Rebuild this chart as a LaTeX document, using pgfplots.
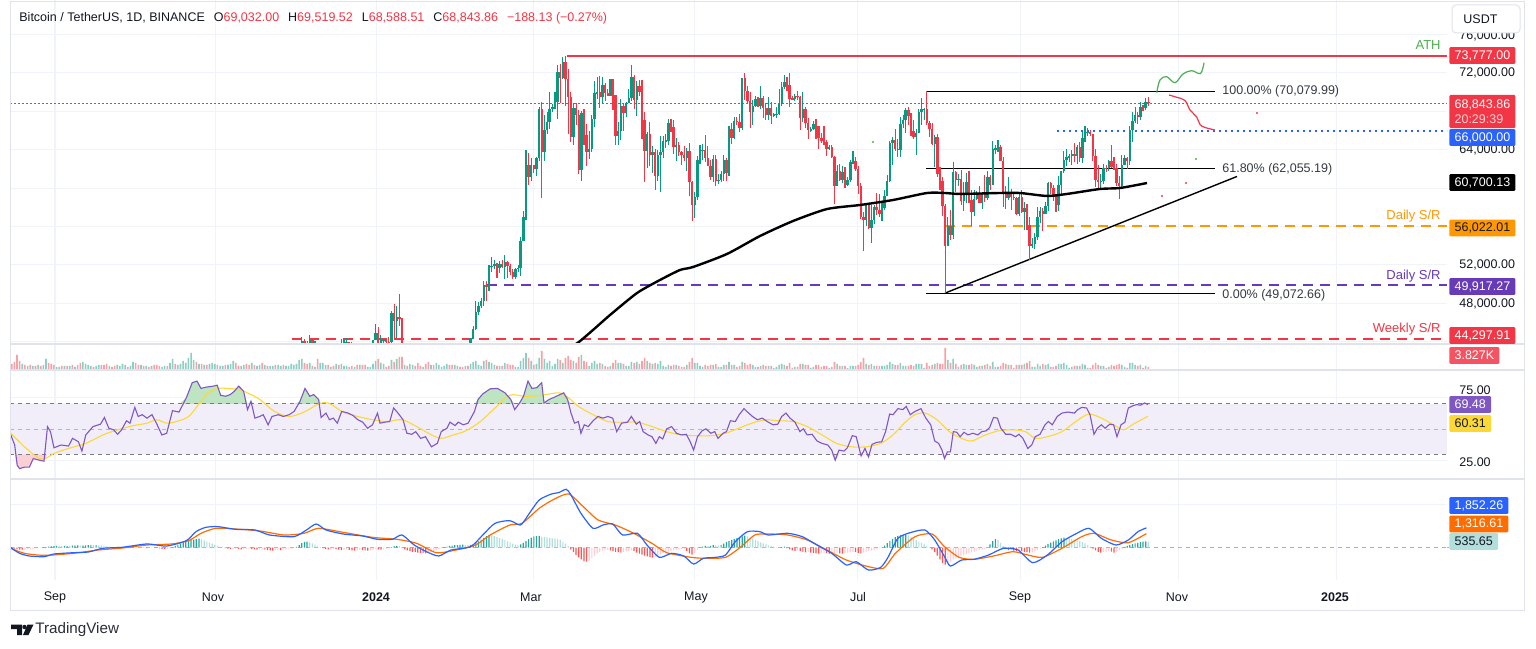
\documentclass[border=0pt]{standalone}
\usepackage{fontspec}
\setmainfont{Liberation Sans}
\usepackage{pgfplots}
\usepackage{pgfplotstable}
\pgfplotsset{compat=1.18}

\definecolor{tvup}{RGB}{8,153,129}
\definecolor{tvdn}{RGB}{242,54,69}
\definecolor{volup}{RGB}{140,206,195}
\definecolor{voldn}{RGB}{249,160,166}
\definecolor{tvtext}{RGB}{19,23,34}
\definecolor{gridc}{RGB}{240,243,250}
\definecolor{framec}{RGB}{224,227,235}
\definecolor{rsiline}{RGB}{126,87,194}
\definecolor{rsima}{RGB}{253,216,53}
\definecolor{rsiband}{RGB}{242,238,249}
\definecolor{lvl}{RGB}{120,123,134}
\definecolor{macdb}{RGB}{41,98,255}
\definecolor{macdo}{RGB}{255,109,0}
\definecolor{hA}{RGB}{38,166,154}
\definecolor{hB}{RGB}{178,223,219}
\definecolor{hC}{RGB}{255,82,82}
\definecolor{hD}{RGB}{255,205,210}
\definecolor{srpurple}{RGB}{103,58,183}
\definecolor{srorange}{RGB}{255,152,0}
\definecolor{athgreen}{RGB}{76,175,80}
\definecolor{obfill}{RGB}{190,228,194}
\definecolor{osfill}{RGB}{250,208,213}

\newcommand{\tvf}{\fontsize{6.25pt}{7pt}\selectfont}

\pgfplotsset{
  tvaxis/.style={scale only axis, width=718.5pt, anchor=south west,
    xmin=10, xmax=1447, axis line style={draw=none}, major tick length=0pt,
    xtick={55,215,376,533,694,857,1020,1178,1336}, xticklabels={}, yticklabels={},
    xmajorgrids, grid style={draw=gridc, line width=0.5pt}},
}

% daily candles, prices in thousands USDT, d = days since 1 Sep 2023
\pgfplotstableread{
d o h l c
95 41.98 44.49 41.42 44.08
96 44.08 44.27 43.34 43.77
97 43.77 44.05 42.82 43.29
98 43.29 44.70 43.08 44.17
99 44.17 44.36 43.58 43.73
100 43.73 44.04 43.59 43.79
101 43.79 43.81 40.23 41.24
110 42.26 44.28 42.18 43.65
111 43.65 44.24 43.28 43.88
112 43.88 44.40 43.42 43.99
113 43.99 44.02 43.57 43.72
114 43.72 43.95 42.75 43.02
115 43.02 43.60 42.77 43.58
116 43.58 43.61 41.62 42.51
117 42.51 43.68 42.11 43.45
118 43.45 43.80 42.32 42.59
122 42.28 44.18 42.18 44.18
123 44.18 45.88 44.15 44.95
124 44.95 45.50 40.75 42.85
125 42.85 44.73 42.63 44.15
126 44.15 44.34 42.62 44.16
127 44.16 44.23 43.42 43.97
128 43.97 44.50 43.58 43.93
129 43.93 47.25 43.20 46.97
130 46.97 47.89 44.30 46.12
131 46.12 47.70 44.35 46.63
132 46.63 48.97 45.60 46.34
133 46.34 46.50 41.50 42.78
159 43.09 44.40 42.80 44.34
160 44.34 45.60 44.33 45.29
161 45.29 48.20 45.24 47.13
162 47.13 48.17 46.80 47.75
163 47.75 48.59 47.55 48.29
164 48.29 50.33 47.71 49.96
165 49.96 50.37 48.30 49.70
166 49.70 52.04 49.26 51.80
167 51.80 52.82 51.31 51.91
168 51.91 52.57 51.63 52.14
169 52.14 52.20 50.63 51.65
170 51.65 52.37 51.16 52.14
171 52.14 52.49 51.68 51.78
172 51.78 52.99 50.52 52.28
173 52.28 52.37 50.63 51.85
174 51.85 52.09 50.94 51.30
175 51.30 51.55 50.54 50.73
176 50.73 51.70 50.59 51.57
177 51.57 51.96 51.28 51.73
178 51.73 54.94 50.90 54.48
179 54.48 57.59 54.45 57.04
180 57.04 64.00 56.69 62.43
181 62.43 63.68 60.36 61.13
182 61.13 63.11 60.79 62.39
183 62.39 62.43 61.56 61.99
184 61.99 63.23 61.32 63.11
185 63.11 68.50 62.80 68.24
186 68.24 69.00 59.00 63.80
187 63.80 67.64 62.85 66.10
188 66.10 67.98 65.66 66.93
189 66.93 69.99 66.14 68.30
190 68.30 68.75 67.99 68.50
191 68.50 70.00 68.23 69.02
192 69.02 72.80 67.19 72.12
193 72.12 72.91 68.85 71.48
194 71.48 73.65 71.33 73.10
195 73.10 73.78 68.56 71.40
196 71.40 72.42 65.63 69.50
197 69.50 70.04 64.78 65.30
198 65.30 68.90 64.52 68.39
199 68.39 68.92 66.60 67.61
200 67.61 68.12 61.50 61.94
201 61.94 68.03 60.78 67.86
202 67.86 68.24 64.53 65.49
203 65.49 66.65 62.26 63.78
204 63.78 65.97 63.04 64.04
205 64.04 67.62 63.80 67.21
206 67.21 71.15 66.39 69.88
207 69.88 71.56 69.28 69.99
208 69.99 71.73 68.38 69.45
209 69.45 71.55 68.90 70.74
210 70.74 70.91 69.08 69.89
211 69.89 70.36 69.56 69.65
212 69.65 71.37 69.57 71.33
213 71.33 71.33 68.12 69.70
214 69.70 69.70 64.50 65.46
215 65.46 66.91 64.49 65.97
216 65.97 69.29 65.06 68.51
217 68.51 68.73 66.01 67.84
218 67.84 69.00 67.45 68.90
219 68.90 70.33 68.84 69.36
220 69.36 72.80 69.04 71.62
221 71.62 71.76 68.21 69.15
222 69.15 71.17 67.52 70.63
223 70.63 71.26 69.57 70.01
224 70.01 71.23 65.09 67.12
225 67.12 67.93 60.66 63.92
226 63.92 65.84 62.13 65.66
227 65.66 66.87 62.27 63.42
228 63.42 64.36 61.60 63.79
229 63.79 64.12 59.77 61.28
230 61.28 64.00 60.79 63.47
231 63.47 65.45 59.60 63.82
232 63.82 65.42 63.15 64.94
233 64.94 65.67 64.23 64.94
234 64.94 67.23 64.50 66.84
235 66.84 67.21 65.82 66.41
236 66.41 67.08 63.59 64.28
237 64.28 65.28 62.79 64.50
238 64.50 64.79 63.32 63.77
239 63.77 63.92 62.39 63.46
240 63.46 64.36 62.79 63.12
241 63.12 64.23 61.77 63.84
242 63.84 64.73 59.19 60.64
243 60.64 60.78 56.55 58.25
244 58.25 59.60 56.94 59.12
245 59.12 63.32 58.81 62.89
246 62.89 64.49 62.57 63.89
247 63.89 64.65 62.95 64.01
248 64.01 65.50 62.70 63.16
249 63.16 64.39 62.28 62.31
250 62.31 62.99 60.85 61.19
251 61.19 63.42 60.65 63.07
252 63.07 63.47 60.19 60.79
253 60.79 61.49 60.47 60.83
254 60.83 61.82 60.63 61.48
255 61.48 63.45 60.75 62.94
256 62.94 63.10 60.76 61.58
257 61.58 66.44 61.32 66.21
258 66.21 66.74 64.60 65.23
259 65.23 67.45 65.11 67.05
260 67.05 67.40 66.60 66.94
261 66.94 67.70 65.86 66.28
262 66.28 71.52 66.06 71.45
263 71.45 71.98 69.16 70.14
264 70.14 70.63 68.85 69.12
265 69.12 70.04 66.31 67.93
266 67.93 69.22 66.62 68.53
267 68.53 69.61 68.48 69.28
268 69.28 69.51 68.42 68.51
269 68.51 70.61 68.23 69.39
270 69.39 69.57 67.28 68.37
271 68.37 68.91 67.11 67.64
272 67.64 69.50 67.13 68.35
273 68.35 69.01 66.67 67.49
274 67.49 67.86 67.39 67.71
275 67.71 68.44 67.32 67.75
276 67.75 70.29 67.61 68.80
277 68.80 71.06 68.56 70.57
278 70.57 71.76 70.38 71.08
279 71.08 71.62 70.12 70.76
280 70.76 71.98 68.51 69.34
281 69.34 69.56 69.21 69.31
282 69.31 69.85 69.13 69.65
283 69.65 70.15 69.23 69.51
284 69.51 69.56 66.05 67.32
285 67.32 69.99 66.90 68.24
286 68.24 68.45 66.30 66.76
287 66.76 67.29 65.08 66.01
288 66.01 66.40 65.87 66.19
289 66.19 66.95 66.02 66.64
290 66.64 67.25 65.10 66.49
291 66.49 66.49 64.06 65.18
292 65.18 65.73 64.69 64.96
293 64.96 66.48 64.50 64.83
294 64.83 65.07 63.38 64.10
295 64.10 64.52 63.94 64.26
296 64.26 64.49 63.18 63.21
297 63.21 63.37 58.40 60.28
298 60.28 62.43 60.24 61.81
299 61.81 62.48 60.71 60.86
300 60.86 62.29 60.58 61.67
301 61.67 62.19 59.99 60.32
302 60.32 61.20 60.20 60.89
303 60.89 62.89 60.63 62.68
304 62.68 63.84 62.53 62.85
305 62.85 63.29 61.80 62.03
306 62.03 62.28 59.42 60.20
307 60.20 60.50 56.77 57.04
308 57.04 57.52 53.49 56.64
309 56.64 58.48 56.01 58.23
310 58.23 58.24 55.72 55.85
311 55.85 58.24 54.26 56.71
312 56.71 58.30 56.30 58.05
313 58.05 59.47 57.16 57.72
314 57.72 59.36 57.05 57.34
315 57.34 58.53 56.59 57.90
316 57.90 59.85 57.76 59.23
317 59.23 61.42 59.21 60.79
318 60.79 64.90 60.63 64.72
319 64.72 65.38 62.43 65.04
320 65.04 66.13 63.91 64.09
321 64.09 65.11 63.22 63.99
322 63.99 67.44 63.30 66.66
323 66.66 67.60 66.30 67.14
324 67.14 68.37 65.78 68.17
325 68.17 68.48 66.57 67.55
326 67.55 67.80 65.44 65.93
327 65.93 67.10 65.10 65.37
328 65.37 66.17 63.46 65.78
329 65.78 68.24 65.75 67.91
330 67.91 69.40 66.54 68.25
331 68.25 68.32 67.07 68.25
332 68.25 70.08 66.56 66.78
333 66.78 66.97 65.30 66.19
334 66.19 66.83 64.53 64.62
335 64.62 65.59 62.25 65.35
336 65.35 65.60 61.12 61.50
337 61.50 62.20 59.85 60.70
338 60.70 61.12 57.12 58.16
339 58.16 58.31 49.07 54.02
340 54.02 57.04 53.97 56.03
341 56.03 57.72 54.56 55.12
342 55.12 62.75 54.73 61.70
343 61.70 61.75 59.59 60.88
344 60.88 61.47 60.28 60.95
345 60.95 61.86 58.29 58.71
346 58.71 60.68 57.63 59.35
347 59.35 61.57 58.47 60.60
348 60.60 61.80 58.43 58.74
349 58.74 59.85 56.08 57.56
350 57.56 59.85 57.10 58.87
351 58.87 59.69 58.81 59.49
352 59.49 60.28 58.41 58.43
353 58.43 59.62 57.86 59.49
354 59.49 61.40 58.60 59.01
355 59.01 61.82 58.78 61.16
356 61.16 61.41 59.79 60.38
357 60.38 64.96 60.35 64.09
358 64.09 64.49 63.59 64.18
359 64.18 65.00 63.80 64.25
360 64.25 64.48 62.80 62.83
361 62.83 63.21 58.03 59.42
362 59.42 60.23 57.86 59.03
363 59.03 61.19 58.77 59.37
364 59.37 59.94 57.70 59.12
365 59.12 59.46 58.74 58.97
366 58.97 59.05 57.20 57.30
367 57.30 59.43 57.12 59.13
368 59.13 59.81 57.41 57.48
369 57.48 58.52 55.61 57.97
370 57.97 58.33 55.66 56.16
371 56.16 56.99 52.55 53.95
372 53.95 54.85 53.74 54.16
373 54.16 55.30 53.64 54.87
374 54.87 58.09 54.59 57.04
375 57.04 58.04 56.39 57.65
376 57.65 57.99 55.55 57.34
377 57.34 58.59 57.32 58.13
378 58.13 60.63 57.63 60.50
379 60.50 60.65 59.43 60.00
380 60.00 60.38 58.70 59.13
381 59.13 59.21 57.49 58.21
382 58.21 61.32 57.61 60.31
383 60.31 61.79 59.17 61.76
384 61.76 63.85 61.56 62.95
385 62.95 64.13 62.35 63.20
386 63.20 63.56 62.76 63.35
387 63.35 64.00 62.38 63.58
388 63.58 64.75 62.68 63.33
389 63.33 64.50 62.56 64.30
390 64.30 64.82 62.68 63.14
391 63.14 65.84 62.67 65.18
392 65.18 66.50 64.82 65.79
393 65.79 66.26 65.42 65.89
394 65.89 66.08 65.42 65.60
395 65.60 65.62 62.86 63.33
396 63.33 64.13 60.16 60.81
397 60.81 62.39 59.98 60.65
398 60.65 61.47 59.83 60.75
399 60.75 62.48 60.46 62.08
400 62.08 62.37 61.64 62.06
401 62.06 62.97 61.82 62.82
402 62.82 64.48 62.13 62.22
403 62.22 63.20 61.85 62.13
404 62.13 62.52 60.26 60.58
405 60.58 61.32 58.90 60.27
406 60.27 63.42 60.04 62.45
407 62.45 63.48 62.42 63.19
408 63.19 63.29 62.05 62.85
409 62.85 66.50 62.42 66.05
410 66.05 67.95 64.80 67.04
411 67.04 68.42 66.75 67.61
412 67.61 67.94 66.70 67.40
413 67.40 68.97 67.12 68.43
414 68.43 68.69 68.02 68.36
415 68.36 69.40 68.10 69.03
416 69.03 69.52 68.59 68.84
}\cdata

% 200-day moving average (x in pixels, price in thousands)
\pgfplotstableread{
x m
560 42.94
577 43.84
593 45.23
610 46.79
637 49.08
660 50.44
680 51.48
693 51.79
727 53.15
760 55.02
793 56.58
827 57.83
860 58.25
893 58.77
927 59.50
945 59.50
960 59.40
1000 59.50
1020 59.50
1047 59.19
1067 59.40
1100 59.92
1120 60.02
1147 60.54
}\madata

% volume, one row per day from 17 Aug 2023; sign = candle direction
\pgfplotstableread[row sep=\\]{
v q\\ -6 0\\ -8 0\\ -15 0\\ -9 0\\ 6 0\\ -5 0\\ 4 0\\ -5 0\\ 4 0\\ -4 0\\ 5 0\\ -4 0\\ 5 0\\ 11 0\\ -7 0\\
-6 0\\ -5 0\\ 3 0\\ 3 0\\ -4 0\\ 4 0\\ -4 0\\ 4 0\\ -5 0\\ 3 0\\ -5 0\\ -7 0\\ 8 0\\ 6 0\\ 5 0\\ 4 0\\ -3 0\\ 4 0\\ 5 0\\ -5 0\\ -5 0\\ -6 0\\ 4 0\\ -3 0\\ -4 0\\ 5 0\\ 4 0\\ 6 0\\ 5 0\\ -3 0\\
4 0\\ 8 0\\ -7 0\\ -5 0\\ 5 0\\ -4 0\\ 4 0\\ -3 0\\ 4 0\\ -5 0\\ -5 0\\ -4 0\\ 3 0\\ 4 0\\ -4 0\\ 7 0\\ 11 0\\ -6 0\\ 5 0\\ 6 0\\ 9 0\\ 7 0\\ 12 0\\ 17 0\\ 10 0\\ -8 0\\ 6 0\\ -6 0\\ 5 0\\ -5 0\\ 6 0\\
7 0\\ 6 0\\ -5 0\\ 4 0\\ 4 0\\ -5 0\\ 5 0\\ 6 0\\ 9 0\\ -7 0\\ -4 0\\ 4 0\\ 5 0\\ -6 0\\ -5 0\\ 7 0\\ -5 0\\ 4 0\\ 5 0\\ -7 0\\ 5 0\\ -4 0\\ 4 0\\ 4 0\\ -5 0\\ 5 0\\ 4 0\\ -5 0\\ 4 0\\ 4 0\\
6 0\\ 5 0\\ 6 0\\ 10 0\\ 11 0\\ -7 0\\ -6 0\\ 7 0\\ -4 0\\ 3 0\\ -11 0\\ 7 0\\ 7 0\\ 5 0\\ -5 0\\ 3 0\\ -4 0\\ 6 0\\ -5 0\\ 6 0\\ 4 0\\ 4 0\\ -3 0\\ -4 0\\ 3 0\\ -5 0\\ 5 0\\ -5 0\\ -5 0\\ 3 0\\ 3 0\\
6 0\\ 9 0\\ -11 0\\ 7 0\\ 6 0\\ -3 0\\ -4 0\\ 10 0\\ -8 0\\ 11 0\\ -13 0\\ -13 0\\ 5 0\\ -4 0\\ 6 0\\ 5 0\\ -4 0\\ -7 0\\ -4 0\\ 3 0\\ -6 0\\ -8 0\\ 5 0\\ -5 0\\ 7 0\\ 5 0\\ 3 0\\ 4 0\\ 6 0\\ -5 0\\ -5 0\\
5 0\\ 4 0\\ -3 0\\ -3 0\\ 4 0\\ -4 0\\ 6 0\\ 8 0\\ 9 0\\ 5 0\\ 4 0\\ 9 0\\ -10 0\\ 8 0\\ 7 0\\ 5 0\\ -4 0\\ 4 0\\ -4 0\\ 7 0\\ -6 0\\ -5 0\\ -5 0\\ 3 0\\ 3 0\\ 9 0\\ 12 0\\ 17 0\\ -12 0\\
9 0\\ -5 0\\ 6 0\\ 12 0\\ -19 0\\ 11 0\\ 7 0\\ 9 0\\ 4 0\\ 6 0\\ 11 0\\ -10 0\\ 7 0\\ -12 0\\ -14 0\\ -10 0\\ 9 0\\ -7 0\\ -13 0\\ 15 0\\ -9 0\\ -8 0\\ 4 0\\ 7 0\\ 9 0\\ 6 0\\ -7 0\\ 6 0\\ -4 0\\ -3 0\\ 4 0\\
-7 0\\ -10 0\\ 7 0\\ 7 0\\ -6 0\\ 4 0\\ 4 0\\ 8 0\\ -7 0\\ 8 0\\ -6 0\\ -9 0\\ -12 0\\ 9 0\\ -7 0\\ 6 0\\ -7 0\\ 6 0\\ 9 0\\ 4 0\\ 3 0\\ 5 0\\ -4 0\\ -5 0\\ 5 0\\ -4 0\\ -3 0\\ -3 0\\ 5 0\\ -8 0\\
-12 0\\ 7 0\\ 7 0\\ 4 0\\ 3 0\\ -5 0\\ -4 0\\ -5 0\\ 5 0\\ -6 0\\ 3 0\\ 3 0\\ 5 0\\ -5 0\\ 8 0\\ -5 0\\ 5 0\\ -3 0\\ -4 0\\ 8 0\\ -7 0\\ -5 0\\ -6 0\\ 5 0\\ 3 0\\ -3 0\\ 4 0\\ -5 0\\ -4 0\\ 4 0\\ -4 0\\
2 0\\ 3 0\\ 5 0\\ 6 0\\ 5 0\\ -4 0\\ -7 0\\ -2 0\\ 3 0\\ -3 0\\ -6 0\\ 6 0\\ -5 0\\ -5 0\\ 2 0\\ 3 0\\ -5 0\\ -5 0\\ -3 0\\ -4 0\\ -4 0\\ 2 0\\ -3 0\\ -8 0\\ 6 0\\ -4 0\\ 4 0\\ -4 0\\ 2 0\\ 4 0\\
4 0\\ -4 0\\ -5 0\\ -8 0\\ -12 0\\ 6 0\\ -5 0\\ 6 0\\ 4 0\\ -4 0\\ -4 0\\ 4 0\\ 4 0\\ 5 0\\ 8 0\\ 6 0\\ -5 0\\ -5 0\\ 7 0\\ 4 0\\ 4 0\\ -4 0\\ -5 0\\ -4 0\\ 6 0\\ 6 0\\ 6 0\\ 2 0\\ -7 0\\ -4 0\\ -5 0\\
6 0\\ -7 0\\ -6 0\\ -6 0\\ -22 0\\ 10 0\\ -7 0\\ 11 0\\ -6 0\\ 3 0\\ -5 0\\ 6 0\\ 5 0\\ -5 0\\ -6 0\\ 5 0\\ 3 0\\ -4 0\\ 4 0\\ -5 0\\ 6 0\\ -4 0\\ 8 0\\ 3 0\\ 3 0\\ -4 0\\ -7 0\\ -6 0\\ 5 0\\ -5 0\\ -2 0\\
-5 0\\ 5 0\\ -5 0\\ 6 0\\ -7 0\\ -9 0\\ 3 0\\ 3 0\\ 6 0\\ 4 0\\ -6 0\\ 5 0\\ 6 0\\ -3 0\\ -3 0\\ -4 0\\ 6 0\\ 6 0\\ 7 0\\ 5 0\\ 2 0\\ 3 0\\ -4 0\\ 4 0\\ -4 0\\ 6 0\\ 5 0\\ 2 0\\ -2 0\\ -5 0\\
-7 0\\ -5 0\\ 4 0\\ 4 0\\ -2 0\\ 3 0\\ -5 0\\ -4 0\\ -5 0\\ -6 0\\ 5 0\\ 3 0\\ -2 0\\ 7 0\\ 7 0\\ 5 0\\ -4 0\\ 5 0\\ -2 0\\ 4 0\\ -3 0\\
}\voldata

% RSI(14) and its moving average (x in pixels)
\pgfplotstableread{
x r
10.8 45.5
14.7 37.5
17.2 21.5
19.6 18.8
24.5 20
29.4 20
33.3 26.8
39.2 25.5
44 24.7
47.5 52
50.5 48
54 35.3
61 37.5
68.6 36.7
72.5 42.8
78.4 40.1
81.9 32.7
85.8 45.5
93 52.1
100.5 54
104.4 59.3
108.8 50.8
113.7 49.5
117.6 46
121.6 49.5
126.5 56.7
130 54.8
134.8 67.3
138.2 60.1
142.2 61.5
147 58.8
152 61.5
156.9 54
161.8 45.5
166.7 46.8
172.5 64.7
179 63.6
186.3 74.8
192.2 86.8
197 88.1
201 82.3
206 83.3
213.2 84.1
217.2 84.9
220.6 76.9
225.5 76.1
230.4 77.5
234.3 80.1
238.7 84.1
243.6 80.1
247.5 65.5
251 72.1
254.9 58.8
259.8 60.1
263.2 61.5
268.1 53.5
272 60.1
278.4 61.5
283.3 60.1
289.2 61.5
294.1 64.1
300 72.1
305 82.3
309.8 76.1
313.7 77.5
318.6 73.5
321.1 59.3
326 62.8
329.4 57.5
333.3 58.8
337.3 54.8
341.7 64.1
348 62.8
353 60.9
357.8 57.5
362.7 55.6
367.6 50.8
372.5 53.5
377.5 62.8
380 54.8
384.8 55.6
389.7 56.1
393.6 66.8
398 62.8
403 57.5
406.9 46.8
411.8 46
415.7 48.1
420.6 42.8
425.5 44.1
431.4 36.1
437.3 38.8
441.2 48.1
447 50.8
450 55.6
455 52.9
458.3 55.6
463.2 53.5
468.1 54.8
474.5 64.1
478 73.5
482.8 78
490.2 82
497.5 82.3
505 78.8
510.8 73.5
514.7 65.5
519.6 70.8
523.5 76.1
528 88.1
531.9 82.3
536.8 82.9
541.7 86.8
544 70.8
549 73.5
556.4 76.1
563.7 78.8
567.6 73.5
571 62.8
574.5 54.8
578.4 56.1
580.9 46.8
584.3 53.5
588.2 52.1
593.1 56.7
598 60.1
603 58.8
607.8 60.1
612.7 58.8
616.7 48.1
621.6 54.8
627.5 55.6
631.4 60.1
636.3 54
639.7 56.1
643.1 48.1
648 45.5
652 44.1
655.9 38.8
659.3 44.1
662.7 42.3
666.7 50.3
671.6 52.1
676.5 46.8
681.4 45.5
686.3 46
690.2 40.1
693.6 33.5
697.5 44.1
702 48.7
705.9 50.3
710.8 46.8
714.7 48.1
718 42.8
723 46.8
726.5 48.1
730.4 56.7
735.3 56.1
739.2 61.5
744 66.3
747.5 63.6
752.5 60.1
757.4 57.5
762.3 58.8
767.2 56.1
773 53.5
777.8 54
781.7 60.1
786 62.8
790 58.8
795 55.6
799.9 48.1
803.3 50.3
807.2 45.5
812.1 46
817 40.7
822 38.8
827.8 37.5
831.7 33.5
835.2 25.5
839 33.5
844 32.7
847.4 35.3
852.3 44.9
856.2 44.1
861.1 28.9
865 34.8
868.5 28.1
872 38
876.8 39.6
881.7 40.1
885.6 48.1
889.6 62
893 61.5
897.9 66.3
902.8 65.5
906.2 68.1
910.2 61.5
915 64.1
921 66.3
925.8 58.8
930.7 53.5
934.7 40.7
938.6 38.8
942 33.5
944.5 26.8
947.4 32.1
950.4 32.1
953.3 48.1
956.7 47.6
960.2 44.1
964 47.6
968 45.5
972.9 46.8
977.8 45.5
981.7 48.1
986.1 48.7
989.6 51.3
993.5 59.3
997.4 58.8
1000.8 50.8
1005.7 46
1010.6 46
1015.5 44.1
1019 46
1022.9 42.8
1027.8 34.8
1031.7 37.5
1035.2 44.1
1040 46
1045 53.5
1048.4 56.1
1052.3 53.5
1057.2 60.1
1062 62.8
1068 63.6
1074.4 62.8
1077.8 65.5
1081.7 67.3
1086.6 66.8
1090 61.5
1094 46
1097.4 50.8
1101.3 53.5
1105.2 50.8
1109.7 54
1113.6 53.5
1117 44.1
1121 53.5
1124.9 55.6
1128.3 66.8
1133.2 68.7
1136.6 69.5
1140.5 69
1144.5 70.8
1148 69.48
}\rsidata

\pgfplotstableread{
x m
10.8 46.8
24.5 36.1
36.8 28.1
44 26.3
54 30.8
68.6 34.8
85.8 38.8
103 45.5
117.6 49.5
132.4 52.7
147 54.8
156.9 57.5
166.7 54.8
176.5 56.1
188.7 60.1
198.5 69.5
208.3 78.8
218 82.3
228 82.3
237.7 81.5
247.5 78.8
259.8 73.5
274.5 64.1
289.2 60.1
304 63.6
318.6 70
328.4 70.8
343 63.6
357.8 60.1
372.5 57.5
387.3 56.1
402 57.5
416.7 52.1
431.4 45.5
441.2 42.8
451 44.9
465.7 48.7
480.4 56.1
495 66.8
509.8 76.9
524.5 76.1
539.2 76.6
558.8 78.8
568.6 74.8
578.4 68.1
593.1 61.5
607.8 56.1
622.5 55.6
637.3 55.6
652 52.1
666.7 48.1
681.4 45.5
696 44.9
710.8 44.9
725.5 46.8
740.2 51.3
754.9 55.6
767.2 57.5
777.8 56.7
792.5 56.1
807.2 52.1
822 45.5
836.6 38.8
851.3 36.1
866 36.1
880.7 38.8
893 45.5
905.3 55.6
915 61.5
925 62.8
937 57.5
949.4 48.1
961.6 42.8
971.4 40.7
983.7 44.9
998.4 48.7
1013 49.5
1025.4 48.1
1035.2 42.8
1047.4 44.1
1062 48.1
1076.8 56.7
1089 62
1101.3 58.8
1113.6 53.5
1123.4 49.5
1133.2 54
1148 60.31
}\rsimadata

% MACD line and signal (x in pixels)
\pgfplotstableread{
x v
10.8 0
19.6 -527
29.4 -776
44.1 -840
54 -590
73.5 -466
88.2 -404
103 -57
122.5 40
147 348
166.7 157
186.3 658
196 1500
206 1906
218 1968
235.3 1719
255 1656
269.6 1188
294 1030
306.4 1656
316.2 2217
326 1656
343.1 1281
362.7 1094
377.5 782
392.2 782
402 1188
414.2 250
426.5 -374
438.7 -776
451 -218
470.6 94
482.8 1188
495 2280
509.8 2527
520.6 2123
529.4 3219
539.2 4462
551.5 5023
558.8 5148
566.2 5460
571 4929
580.9 3219
593 1812
603 2123
612.7 2217
622.5 1188
637.3 1344
647 250
659.3 -900
671.6 -527
683.8 -776
693.6 -1527
703.4 -994
715.7 -900
725.5 -683
735.3 561
747.5 1500
759.8 1500
768.3 1188
787.6 1344
802.3 1030
817 250
831.7 -527
846.4 -1620
856.2 -1309
868.5 -2090
880.7 -1838
888 -900
897.9 878
910.2 1406
924.9 1656
934.7 720
944.5 -840
950.4 -1715
961.6 -1153
973.9 -1088
988.6 -683
1003.3 -60
1018 -218
1032.7 -1400
1047.4 -683
1062 561
1076.8 1344
1089 1812
1101.3 878
1116 250
1128.3 720
1138 1500
1146.4 1852
}\macddata

\pgfplotstableread{
x s
10.8 -57
24.5 -527
44.1 -714
73.5 -527
98 -218
122.5 -30
147 250
171.6 348
188.7 658
201 1344
215.7 1812
235.3 1750
259.8 1563
284.3 1188
304 1344
318.6 1812
343.1 1438
372.5 969
397 782
416.7 406
436.3 -466
455.9 -218
475.5 250
490.2 1188
509.8 2123
522 2280
539.2 3682
553.9 4524
568.6 5023
583.3 3839
598 2591
615.2 2123
632.4 1406
652 406
666.7 -466
691.2 -900
705.9 -994
725.5 -900
740.2 31
754.9 1188
768.3 1281
787.6 1188
807.2 720
826.8 -218
846.4 -1153
866 -1715
883.2 -1932
895.4 -527
915 1030
932.2 1281
944.5 94
959.2 -900
973.9 -1088
993.5 -776
1013 -374
1027.8 -683
1042.5 -900
1062 -57
1081.7 1030
1094 1344
1111.3 720
1128.3 470
1146.4 1316
}\sigdata

% MACD histogram, one row per day from 17 Aug 2023; k = colour class
\pgfplotstableread[row sep=\\]{
h k\\ -30 3\\ -80 3\\ -130 3\\ -170 3\\ -190 3\\ -180 4\\ -160 4\\ -140 4\\ -110 4\\ -80 4\\ -50 4\\ -20 4\\ 20 1\\ 60 1\\ 100 1\\
130 1\\ 150 1\\ 170 1\\ 160 2\\ 150 2\\ 170 1\\ 180 1\\ 170 2\\ 190 1\\ 200 1\\ 210 1\\ 190 2\\ 200 1\\ 220 1\\ 240 1\\ 250 1\\ 230 2\\ 240 1\\ 220 2\\ 200 2\\ 170 2\\ 130 2\\ 100 2\\ 80 2\\ 60 2\\ 70 1\\ 80 1\\ 60 2\\ 40 2\\ 30 2\\
40 1\\ 50 1\\ 40 2\\ 20 2\\ 10 2\\ -10 3\\ -30 3\\ -20 4\\ -10 4\\ 10 1\\ -20 3\\ -60 3\\ -110 3\\ -140 3\\ -120 4\\ -60 4\\ 30 1\\ 150 1\\ 280 1\\ 380 1\\ 470 1\\ 550 1\\ 620 1\\ 700 1\\ 760 1\\ 810 1\\ 840 1\\ 780 2\\ 690 2\\ 580 2\\ 470 2\\
370 2\\ 270 2\\ 180 2\\ 100 2\\ 30 2\\ -40 3\\ -90 3\\ -120 3\\ -100 4\\ -80 4\\ -110 3\\ -150 3\\ -130 4\\ -100 4\\ -90 4\\ -120 3\\ -160 3\\ -190 3\\ -170 4\\ -150 4\\ -180 3\\ -220 3\\ -250 3\\ -280 3\\ -240 4\\ -200 4\\ -220 3\\ -190 4\\ -150 4\\ -110 4\\
-80 4\\ -30 4\\ 80 1\\ 250 1\\ 420 1\\ 540 1\\ 560 1\\ 500 2\\ 400 2\\ 280 2\\ 160 2\\ 60 2\\ -40 3\\ -110 3\\ -160 3\\ -150 4\\ -120 4\\ -140 3\\ -190 3\\ -220 3\\ -200 4\\ -170 4\\ -200 3\\ -250 3\\ -270 3\\ -230 4\\ -200 4\\ -220 3\\ -260 3\\ -280 3\\ -240 4\\
-180 4\\ -120 4\\ -150 3\\ -190 3\\ -150 4\\ -90 4\\ -30 4\\ 60 1\\ 140 1\\ 180 1\\ 150 2\\ -20 3\\ -150 3\\ -250 3\\ -320 3\\ -380 3\\ -420 3\\ -460 3\\ -490 3\\ -510 3\\ -520 3\\ -470 4\\ -400 4\\ -320 4\\ -240 4\\ -150 4\\ -70 4\\ 20 1\\ 100 1\\ 160 1\\ 200 1\\
230 1\\ 250 1\\ 270 1\\ 280 1\\ 260 2\\ 240 2\\ 270 1\\ 330 1\\ 450 1\\ 600 1\\ 760 1\\ 920 1\\ 1080 1\\ 1190 1\\ 1150 2\\ 1080 2\\ 990 2\\ 900 2\\ 800 2\\ 700 2\\ 600 2\\ 490 2\\ 380 2\\ 280 2\\ 220 2\\ 300 1\\ 450 1\\ 620 1\\ 800 1\\
950 1\\ 1050 1\\ 1090 1\\ 1100 1\\ 1020 2\\ 1000 2\\ 960 2\\ 900 2\\ 880 2\\ 850 2\\ 800 2\\ 720 2\\ 560 2\\ 380 2\\ 150 2\\ -150 3\\ -420 3\\ -680 3\\ -900 3\\ -1100 3\\ -1250 3\\ -1310 3\\ -1200 4\\ -1000 4\\ -760 4\\ -520 4\\ -380 4\\ -280 4\\ -230 4\\ -200 4\\ -250 3\\
-320 3\\ -380 3\\ -420 3\\ -460 3\\ -400 4\\ -330 4\\ -280 4\\ -240 4\\ -320 3\\ -450 3\\ -560 3\\ -650 3\\ -730 3\\ -800 3\\ -870 3\\ -930 3\\ -880 4\\ -780 4\\ -650 4\\ -540 4\\ -440 4\\ -360 4\\ -300 4\\ -250 4\\ -200 4\\ -170 4\\ -150 4\\ -130 4\\ -300 3\\ -520 3\\
-650 3\\ -480 4\\ -200 4\\ 40 1\\ 100 1\\ 160 1\\ 140 2\\ 180 1\\ 240 1\\ 220 2\\ 200 2\\ 260 1\\ 380 1\\ 520 1\\ 640 1\\ 740 1\\ 820 1\\ 900 1\\ 980 1\\ 1060 1\\ 1120 1\\ 1050 2\\ 950 2\\ 840 2\\ 720 2\\ 610 2\\ 500 2\\ 400 2\\ 300 2\\ 220 2\\ 150 2\\
90 2\\ 40 2\\ 20 2\\ 60 1\\ 100 1\\ -40 3\\ -160 3\\ -250 3\\ -300 3\\ -280 4\\ -320 3\\ -380 3\\ -440 3\\ -400 4\\ -450 3\\ -500 3\\ -540 3\\ -560 3\\ -520 4\\ -480 4\\ -510 3\\ -560 3\\ -540 4\\ -500 4\\ -470 4\\ -520 3\\ -560 3\\ -500 4\\ -450 4\\ -400 4\\
-380 4\\ -420 3\\ -480 3\\ -520 3\\ -470 4\\ -400 4\\ -330 4\\ -270 4\\ -200 4\\ -130 4\\ -70 4\\ 20 1\\ 200 1\\ 420 1\\ 630 1\\ 820 1\\ 980 1\\ 1100 1\\ 1170 1\\ 1190 1\\ 1200 1\\ 1150 2\\ 1000 2\\ 850 2\\ 700 2\\ 560 2\\ 450 2\\ 300 2\\ 180 2\\ 60 2\\ -150 3\\
-420 3\\ -750 3\\ -1100 3\\ -1450 3\\ -1590 3\\ -1480 4\\ -1300 4\\ -1100 4\\ -1000 4\\ -900 4\\ -790 4\\ -680 4\\ -590 4\\ -500 4\\ -430 4\\ -360 4\\ -290 4\\ -220 4\\ -160 4\\ -100 4\\ -40 4\\ 300 1\\ 620 1\\ 810 1\\ 700 2\\ 450 2\\ 150 2\\ -100 3\\ -230 3\\ -200 4\\ -280 3\\
-330 3\\ -300 4\\ -330 3\\ -380 3\\ -420 3\\ -470 3\\ -430 4\\ -330 4\\ -200 4\\ -80 4\\ 60 1\\ 200 1\\ 350 1\\ 470 1\\ 580 1\\ 690 1\\ 790 1\\ 880 1\\ 940 1\\ 900 2\\ 860 2\\ 820 2\\ 760 2\\ 690 2\\ 620 2\\ 520 2\\ 400 2\\ 250 2\\ 90 2\\ -90 3\\
-250 3\\ -380 3\\ -460 3\\ -420 4\\ -380 4\\ -330 4\\ -360 3\\ -450 3\\ -380 4\\ -250 4\\ -100 4\\ 60 1\\ 160 1\\ 250 1\\ 330 1\\ 400 1\\ 460 1\\ 520 1\\ 560 1\\ 580 1\\ 536 2\\
}\histdata

\newcommand{\candleset}[2]{%
  \addplot[only marks, mark size=0pt, mark options={draw opacity=0, fill opacity=0}, forget plot,
    error bars/.cd, y dir=both, y explicit, error mark=none,
    error bar style={line width=0.55pt, line cap=butt, draw=#2}]
    table[x expr=51.3+2.637*\thisrow{d},
          y expr={\thisrow{c}#1\thisrow{o} ? (\thisrow{h}+\thisrow{l})/2 : nan},
          y error expr={(\thisrow{h}-\thisrow{l})/2}] {\cdata};
  \addplot[only marks, mark size=0pt, mark options={draw opacity=0, fill opacity=0}, forget plot,
    error bars/.cd, y dir=both, y explicit, error mark=none,
    error bar style={line width=1.2pt, line cap=butt, draw=#2}]
    table[x expr=51.3+2.637*\thisrow{d},
          y expr={\thisrow{c}#1\thisrow{o} ? (\thisrow{o}+\thisrow{c})/2 : nan},
          y error expr={max(abs(\thisrow{c}-\thisrow{o})/2,0.05)}] {\cdata};
}
\newcommand{\histset}[2]{%
  \addplot[ybar, bar width=0.6pt, bar shift=0pt, fill=#2, draw=none, forget plot]
    table[x expr=51.3+2.637*(\coordindex-15),
          y expr={\thisrow{k}==#1 ? \thisrow{h} : nan}] {\histdata};
}
\newcommand{\ptag}[4]{\node[anchor=west, fill=#2, text=#3, inner xsep=2.6pt, inner ysep=0pt,
  minimum height=8.4pt, rounded corners=0.6pt, font=\tvf] at (1449,#1) {#4};}
\newcommand{\ptick}[2]{\node[anchor=west, text=tvtext, inner sep=0pt, font=\tvf] at (1459,#1) {#2};}

\begin{document}
\begin{tikzpicture}
\fill[white] (0,0) rectangle (768pt,324pt);

% ---------------- price pane ----------------
\begin{axis}[tvaxis, at={(5pt,152pt)}, height=172pt,
  ymin=43.771, ymax=79.604, ytick={44,48,...,76}, ymajorgrids]
\addplot[tvdn, line width=0.6pt] coordinates {(567,73.777) (1447,73.777)};
\addplot[tvdn, line width=0.5pt, dash pattern=on 1pt off 1pt] coordinates {(10,68.844) (1447,68.844)};
\addplot[macdb, line width=1pt, dash pattern=on 1pt off 2pt] coordinates {(1057,66) (1447,66)};
\addplot[srorange, line width=1pt, dash pattern=on 5pt off 3.5pt] coordinates {(945,56.022) (1447,56.022)};
\addplot[srpurple, line width=1pt, dash pattern=on 5pt off 3.5pt] coordinates {(487,49.917) (1447,49.917)};
\addplot[tvdn, line width=1pt, dash pattern=on 5pt off 3.5pt] coordinates {(292,44.298) (1447,44.298)};
\addplot[black, line width=0.5pt] coordinates {(926,70.080) (1215,70.080)};
\addplot[black, line width=0.5pt] coordinates {(926,62.055) (1215,62.055)};
\addplot[black, line width=0.5pt] coordinates {(926,49.073) (1215,49.073)};
\addplot[black, line width=0.7pt] coordinates {(945,49.07) (1237,61.22)};
\candleset{>=}{tvup}
\candleset{<}{tvdn}
\addplot[black, line width=1.2pt, smooth, tension=0.4] table[x=x, y=m] {\madata};
\end{axis}

% ---------------- volume pane ----------------
\begin{axis}[tvaxis, at={(5pt,139pt)}, height=13pt, ymin=0, ymax=26]
\addplot[ybar, bar width=0.8pt, bar shift=0pt, fill=volup, draw=none]
  table[x expr=51.3+2.637*(\coordindex-15), y expr={\thisrow{v}>0 ? \thisrow{v} : nan}] {\voldata};
\addplot[ybar, bar width=0.8pt, bar shift=0pt, fill=voldn, draw=none]
  table[x expr=51.3+2.637*(\coordindex-15), y expr={\thisrow{v}<0 ? -\thisrow{v} : nan}] {\voldata};
\end{axis}

% ---------------- RSI pane ----------------
\begin{axis}[tvaxis, at={(5pt,84.5pt)}, height=54.5pt,
  ymin=10.6, ymax=96.9, ytick={25,75}, ymajorgrids]
\fill[rsiband] (axis cs:10,30) rectangle (axis cs:1447,70);
\addplot[fill=obfill, draw=none, forget plot] table[x=x, y expr={max(\thisrow{r},70)}] {\rsidata}
  -- (axis cs:1148,70) -- (axis cs:10.8,70) -- cycle;
\addplot[fill=osfill, draw=none, forget plot] table[x=x, y expr={min(\thisrow{r},30)}] {\rsidata}
  -- (axis cs:1148,30) -- (axis cs:10.8,30) -- cycle;
\addplot[lvl, line width=0.5pt, dash pattern=on 2pt off 2pt] coordinates {(10,70) (1447,70)};
\addplot[lvl!55, line width=0.5pt, dash pattern=on 2pt off 2pt] coordinates {(10,50) (1447,50)};
\addplot[lvl, line width=0.5pt, dash pattern=on 2pt off 2pt] coordinates {(10,30) (1447,30)};
\addplot[rsima, line width=0.55pt, smooth, tension=0.5] table[x=x, y=m] {\rsimadata};
\addplot[rsiline, line width=0.55pt] table[x=x, y=r] {\rsidata};
\end{axis}

% ---------------- MACD pane ----------------
\begin{axis}[tvaxis, at={(5pt,34pt)}, height=50.5pt,
  ymin=-3019, ymax=6421, ytick={4000}, ymajorgrids]
\addplot[lvl!60, line width=0.5pt, dash pattern=on 2pt off 2pt] coordinates {(10,0) (1447,0)};
\histset{1}{hA}
\histset{2}{hB}
\histset{3}{hC}
\histset{4}{hD}
\addplot[macdo, line width=0.6pt, smooth, tension=0.4] table[x=x, y=s] {\sigdata};
\addplot[macdb, line width=0.6pt, smooth, tension=0.4] table[x=x, y=v] {\macddata};
\end{axis}

% ---------------- frame, labels, drawings (pixel coordinates) ----------------
\begin{scope}[x=0.5pt, y=-0.5pt, yshift=324pt]
\draw[framec, line width=0.5pt] (10,1.5) rectangle (1524,610);
\foreach \yy in {344,370,479} \draw[framec, line width=0.6pt] (10,\yy) -- (1524,\yy);
\draw[lvl!60, line width=0.5pt, dash pattern=on 2pt off 2pt] (1447,547.7) -- (1449,547.7);

% header
\node[anchor=west, inner sep=0pt, text=tvtext, font=\tvf] at (19,18)
  {Bitcoin / TetherUS, 1D, BINANCE\hspace{4.5pt}O\textcolor{tvdn}{69,032.00}\hspace{4.5pt}H\textcolor{tvdn}{69,519.52}\hspace{4.5pt}L\textcolor{tvdn}{68,588.51}\hspace{4.5pt}C\textcolor{tvdn}{68,843.86}\hspace{4.5pt}\textcolor{tvdn}{−188.13 (−0.27\%)}};

% price scale ticks
\ptick{36}{76,000.00}
\ptick{73}{72,000.00}
\ptick{150}{64,000.00}
\ptick{265}{52,000.00}
\ptick{304}{48,000.00}
\ptick{390.5}{75.00}
\ptick{462}{25.00}
\draw[framec, fill=white, rounded corners=2pt, line width=0.5pt] (1452,5) rectangle (1520,33);
\node[anchor=west, inner sep=0pt, text=tvtext, font=\tvf] at (1463,19) {USDT};

% value tags
\ptag{55.5}{tvdn}{white}{73,777.00}
\node[anchor=west, fill=tvdn, text=white, inner xsep=2.6pt, inner ysep=0pt, minimum height=16.6pt,
  rounded corners=0.6pt, align=left, font=\tvf] at (1449,111.5)
  {68,843.86\\[0.6pt]\textcolor{white!78!tvdn}{20:29:39}};
\ptag{137.5}{macdb}{white}{66,000.00}
\ptag{182.5}{black}{white}{60,700.13}
\ptag{228}{srorange}{tvtext}{56,022.01}
\ptag{286.5}{srpurple}{white}{49,917.27}
\ptag{335.5}{tvdn}{white}{44,297.91}
\ptag{355.5}{tvdn!85!white}{white}{3.827K}
\ptag{404.5}{rsiline}{white}{69.48}
\ptag{423.5}{rsima}{tvtext}{60.31}
\ptag{505.5}{macdb}{white}{1,852.26}
\ptag{524}{macdo}{white}{1,316.61}
\ptag{541.5}{hB}{tvtext}{535.65}

% chart annotations
\node[anchor=east, inner sep=0pt, text=athgreen, font=\fontsize{6.5pt}{7pt}\selectfont] at (1441,45) {ATH};
\node[anchor=east, inner sep=0pt, text=srorange, font=\fontsize{6.5pt}{7pt}\selectfont] at (1441,216) {Daily S/R};
\node[anchor=east, inner sep=0pt, text=srpurple, font=\fontsize{6.5pt}{7pt}\selectfont] at (1441,276) {Daily S/R};
\node[anchor=east, inner sep=0pt, text=tvdn, font=\fontsize{6.5pt}{7pt}\selectfont] at (1441,329) {Weekly S/R};
\node[anchor=west, inner sep=0pt, text=tvtext!85, font=\tvf] at (1222,91.5) {100.00\% (70,079.99)};
\node[anchor=west, inner sep=0pt, text=tvtext!85, font=\tvf] at (1222,169) {61.80\% (62,055.19)};
\node[anchor=west, inner sep=0pt, text=tvtext!85, font=\tvf] at (1222,295) {0.00\% (49,072.66)};

\draw[athgreen, line width=0.6pt] plot[smooth, tension=0.6] coordinates
  {(1156.7,92.7) (1160,80) (1166.7,76.7) (1175,82.7) (1183,74) (1191.7,70.7) (1200.5,73.5) (1204,62.7)};
\draw[tvdn, line width=0.6pt] plot[smooth, tension=0.6] coordinates
  {(1169,95) (1176.7,97.3) (1185,100.5) (1190,110) (1196.7,117) (1200,124.5) (1205,127.5) (1215,130)};
\fill[athgreen] (1196,159) circle (0.6pt);
\fill[athgreen] (873,142) circle (0.6pt);
\fill[tvdn] (1186,183) circle (0.6pt);
\fill[tvdn] (1162,196) circle (0.6pt);
\fill[tvdn] (1257,113) circle (0.6pt);

% time axis
\foreach \xx/\lab in {55/Sep,213/Nov,531/Mar,696/May,858/Jul,1020/Sep,1177/Nov}
  \node[inner sep=0pt, text=tvtext, font=\tvf] at (\xx,597) {\lab};
\node[inner sep=0pt, text=tvtext, font=\tvf\bfseries] at (376,597) {2024};
\node[inner sep=0pt, text=tvtext, font=\tvf\bfseries] at (1335,597) {2025};

% TradingView logo
\fill[tvtext] (11,624.5) -- (22,624.5) -- (22,635) -- (17,635) -- (17,629) -- (11,629) -- cycle;
\fill[tvtext] (24.5,627) circle (1.1pt);
\fill[tvtext] (27.5,624.5) -- (33.5,624.5) -- (28.5,635) -- (23,635) -- cycle;
\node[anchor=west, inner sep=0pt, text=tvtext!90, font=\fontsize{7.6pt}{8pt}\selectfont] at (35,630) {TradingView};
\end{scope}
\pgfresetboundingbox
\path[use as bounding box] (0,0) rectangle (768pt,324pt);
\end{tikzpicture}
\end{document}
